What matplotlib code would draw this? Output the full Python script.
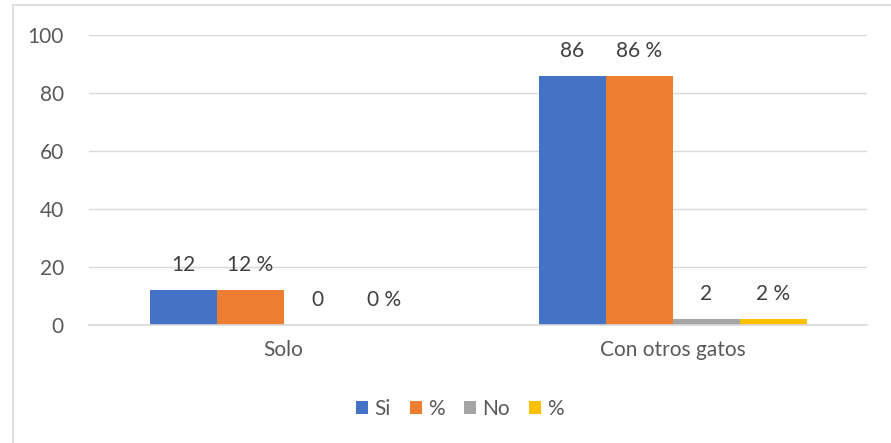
import matplotlib.pyplot as plt
from matplotlib.patches import Rectangle
import numpy as np

plt.rcParams['font.family'] = ['Lato', 'DejaVu Sans']

categories = ['Solo', 'Con otros gatos']
series_names = ['Si', '%', 'No', '%']
si_vals = [12, 86]
si_pct = [12, 86]
no_vals = [0, 2]
no_pct = [0, 2]
series = [si_vals, si_pct, no_vals, no_pct]
label_fmt = ['{}', '{} %', '{}', '{} %']
colors = ['#4472C4', '#ED7D31', '#A5A5A5', '#FFC000']
text_col = '#595959'
fs = 15

fig = plt.figure(figsize=(8.91, 4.43), dpi=100)
ax = fig.add_axes([89 / 891, 1 - 325 / 443, (867 - 89) / 891, (325 - 35) / 443])

# chart border (only top/left visible in original crop)
fig.patches.append(Rectangle((13 / 891, -0.5), 2, 1.5 - 5 / 443, transform=fig.transFigure,
                             fill=False, edgecolor='#D9D9D9', linewidth=1.2))

x = np.arange(len(categories))
w = 67 / 389
for i, (vals, name, col) in enumerate(zip(series, series_names, colors)):
    pos = x + (i - 1.5) * w
    ax.bar(pos, vals, w, color=col, label=name, zorder=3)
    for p, v in zip(pos, vals):
        ax.annotate(label_fmt[i].format(v), (p, v), xytext=(0, 18), textcoords='offset points',
                    ha='center', va='center', fontsize=fs, color='#404040')

ax.set_xlim(-0.5, 1.5)
ax.set_ylim(0, 100)
ax.set_yticks(range(0, 101, 20))
ax.set_xticks(x)
ax.set_xticklabels(categories)
ax.grid(axis='y', color='#D9D9D9', linewidth=1, zorder=0)
for s in ['top', 'right', 'left']:
    ax.spines[s].set_visible(False)
ax.spines['bottom'].set_color('#D9D9D9')
ax.spines['bottom'].set_linewidth(1.2)
ax.spines['bottom'].set_zorder(4)
ax.tick_params(axis='both', length=0, labelsize=fs, colors=text_col)
ax.tick_params(axis='y', pad=18)
ax.tick_params(axis='x', pad=11)

fig.legend(loc='center', bbox_to_anchor=(460 / 891, 1 - 409 / 443), ncol=4, frameon=False,
           fontsize=fs, labelcolor=text_col, handlelength=0.6, handleheight=0.6,
           handletextpad=0.3, columnspacing=0.9)

fig.savefig('out.png', dpi=100)
